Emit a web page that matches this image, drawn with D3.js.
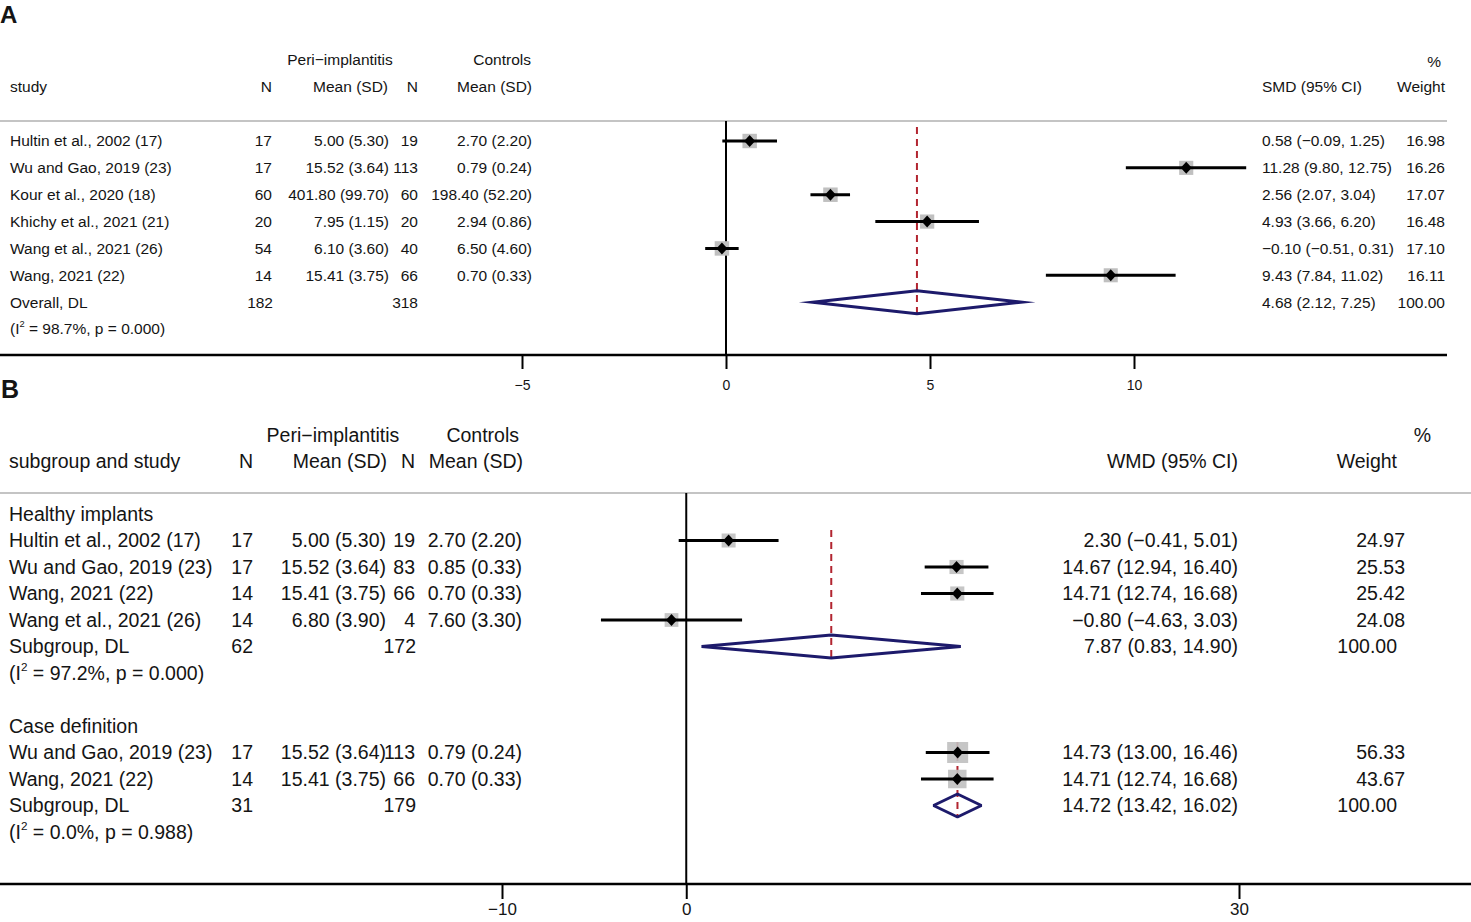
<!DOCTYPE html>
<html>
<head>
<meta charset="utf-8">
<script src="https://cdn.jsdelivr.net/npm/d3@7"></script>
<style>
  html, body { margin: 0; padding: 0; background: #fff; }
  svg { display: block; }
  text { font-family: "Liberation Sans", Arial, Helvetica, sans-serif; fill: #141414; }
</style>
</head>
<body>
<svg id="chart" width="1471" height="922"></svg>
<script>
// ---------- Panel A data ----------
const studiesA = ["Hultin et al., 2002 (17)", "Wu and Gao, 2019 (23)", "Kour et al., 2020 (18)",
  "Khichy et al., 2021 (21)", "Wang et al., 2021 (26)", "Wang, 2021 (22)"];
const nPeriA = [17, 17, 60, 20, 54, 14];
const meanSdPeriA = ["5.00 (5.30)", "15.52 (3.64)", "401.80 (99.70)", "7.95 (1.15)", "6.10 (3.60)", "15.41 (3.75)"];
const nCtrlA = [19, 113, 60, 20, 40, 66];
const meanSdCtrlA = ["2.70 (2.20)", "0.79 (0.24)", "198.40 (52.20)", "2.94 (0.86)", "6.50 (4.60)", "0.70 (0.33)"];
const smdA = [0.58, 11.28, 2.56, 4.93, -0.10, 9.43];
const lowA = [-0.09, 9.80, 2.07, 3.66, -0.51, 7.84];
const highA = [1.25, 12.75, 3.04, 6.20, 0.31, 11.02];
const weightA = [16.98, 16.26, 17.07, 16.48, 17.10, 16.11];
const overallA = [4.68, 2.12, 7.25];
const overallNA = [182, 318];
const hetA = ["98.7%", "0.000"];
const ticksA = [-5, 0, 5, 10];

// ---------- Panel B data ----------
const groupsB = ["Healthy implants", "Case definition"];
const studiesB = ["Hultin et al., 2002 (17)", "Wu and Gao, 2019 (23)", "Wang, 2021 (22)", "Wang et al., 2021 (26)",
  "Wu and Gao, 2019 (23)", "Wang, 2021 (22)"];
const groupOfB = [0, 0, 0, 0, 1, 1];
const nPeriB = [17, 17, 14, 14, 17, 14];
const meanSdPeriB = ["5.00 (5.30)", "15.52 (3.64)", "15.41 (3.75)", "6.80 (3.90)", "15.52 (3.64)", "15.41 (3.75)"];
const nCtrlB = [19, 83, 66, 4, 113, 66];
const meanSdCtrlB = ["2.70 (2.20)", "0.85 (0.33)", "0.70 (0.33)", "7.60 (3.30)", "0.79 (0.24)", "0.70 (0.33)"];
const wmdB = [2.30, 14.67, 14.71, -0.80, 14.73, 14.71];
const lowB = [-0.41, 12.94, 12.74, -4.63, 13.00, 12.74];
const highB = [5.01, 16.40, 16.68, 3.03, 16.46, 16.68];
const weightB = [24.97, 25.53, 25.42, 24.08, 56.33, 43.67];
const subEstB = [7.87, 14.72];
const subLowB = [0.83, 13.42];
const subHighB = [14.90, 16.02];
const subNPeriB = [62, 31];
const subNCtrlB = [172, 179];
const hetB = [["97.2%", "0.000"], ["0.0%", "0.988"]];
const ticksB = [-10, 0, 30];

const fmt = d3.format(".2f");
const ciText = (e, l, h) => `${fmt(e)} (${fmt(l)}, ${fmt(h)})`;

const svg = d3.select("#chart");

function txt(g, x, y, s, size, anchor, extra) {
  const t = g.append("text").attr("x", x).attr("y", y).attr("dy", "0.35em")
    .attr("font-size", size).attr("text-anchor", anchor || "start").text(s);
  if (extra) extra(t);
  return t;
}
function hetLabel(g, x, y, size, i2, p) {
  const t = g.append("text").attr("x", x).attr("y", y).attr("dy", "0.35em").attr("font-size", size);
  t.append("tspan").text("(I");
  t.append("tspan").attr("font-size", size * 0.6).attr("dy", "-0.75em").text("2");
  t.append("tspan").attr("dy", (size * 0.6 * 0.75) + "px").text(` = ${i2}, p = ${p})`);
}
function diamondMarker(cx, cy, hw, hh) {
  const p = d3.path();
  p.moveTo(cx - hw, cy); p.lineTo(cx, cy - hh); p.lineTo(cx + hw, cy); p.lineTo(cx, cy + hh); p.closePath();
  return p.toString();
}

// ================= PANEL A =================
(function () {
  const g = svg.append("g");
  const fs = 15.5;
  const x = d3.scaleLinear().domain([-5, 10]).range([522, 1134]);
  const y = d3.scaleLinear().domain([0, 7]).range([141, 329]);
  const axisY = 355, headerLineY = 121;

  g.append("text").attr("x", 0).attr("y", 23).attr("font-size", 24).attr("font-weight", "bold").text("A");

  // headers
  txt(g, 340, 60, "Peri\u2212implantitis", fs, "middle");
  txt(g, 531, 60, "Controls", fs, "end");
  txt(g, 1441, 62, "%", fs, "end");
  txt(g, 10, 87, "study", fs);
  txt(g, 272, 87, "N", fs, "end");
  txt(g, 388, 87, "Mean (SD)", fs, "end");
  txt(g, 418, 87, "N", fs, "end");
  txt(g, 532, 87, "Mean (SD)", fs, "end");
  txt(g, 1262, 87, "SMD (95% CI)", fs);
  txt(g, 1445, 87, "Weight", fs, "end");

  g.append("line").attr("x1", 0).attr("x2", 1447).attr("y1", headerLineY).attr("y2", headerLineY)
    .attr("stroke", "#c4c4c4").attr("stroke-width", 2);

  // study rows
  studiesA.forEach((s, i) => {
    const yy = y(i);
    txt(g, 10, yy, s, fs);
    txt(g, 272, yy, nPeriA[i], fs, "end");
    txt(g, 389, yy, meanSdPeriA[i], fs, "end");
    txt(g, 418, yy, nCtrlA[i], fs, "end");
    txt(g, 532, yy, meanSdCtrlA[i], fs, "end");
    txt(g, 1262, yy, ciText(smdA[i], lowA[i], highA[i]), fs);
    txt(g, 1445, yy, fmt(weightA[i]), fs, "end");
  });
  // overall
  const yo = y(6);
  txt(g, 10, yo, "Overall, DL", fs);
  txt(g, 273, yo, overallNA[0], fs, "end");
  txt(g, 418, yo, overallNA[1], fs, "end");
  txt(g, 1262, yo, ciText(overallA[0], overallA[1], overallA[2]), fs);
  txt(g, 1445, yo, "100.00", fs, "end");
  hetLabel(g, 10, y(7), fs, hetA[0], hetA[1]);

  // null line
  g.append("line").attr("x1", x(0)).attr("x2", x(0)).attr("y1", headerLineY).attr("y2", axisY)
    .attr("stroke", "#000").attr("stroke-width", 2);

  // boxes, CIs, markers
  const k = 3.5;
  studiesA.forEach((s, i) => {
    const yy = y(i), side = k * Math.sqrt(weightA[i]);
    g.append("rect").attr("x", x(smdA[i]) - side / 2).attr("y", yy - side / 2)
      .attr("width", side).attr("height", side).attr("fill", "#c0c0c0");
    g.append("line").attr("x1", x(lowA[i])).attr("x2", x(highA[i])).attr("y1", yy).attr("y2", yy)
      .attr("stroke", "#000").attr("stroke-width", 3);
    g.append("path").attr("d", diamondMarker(x(smdA[i]), yy, 5.5, 6)).attr("fill", "#000");
  });

  // overall line and diamond
  g.append("line").attr("x1", x(overallA[0])).attr("x2", x(overallA[0])).attr("y1", y(0) - 14).attr("y2", yo + 13)
    .attr("stroke", "#b22530").attr("stroke-width", 2).attr("stroke-dasharray", "7,5");
  const pA = d3.path();
  pA.moveTo(x(overallA[1]), yo); pA.lineTo(x(overallA[0]), yo - 11.5);
  pA.lineTo(x(overallA[2]), yo); pA.lineTo(x(overallA[0]), yo + 11.5); pA.closePath();
  g.append("path").attr("d", pA.toString())
    .attr("fill", "none").attr("stroke", "#1d1a6b").attr("stroke-width", 3)
    .attr("stroke-linejoin", "miter").attr("stroke-miterlimit", 30);

  // axis
  g.append("line").attr("x1", 0).attr("x2", 1447).attr("y1", axisY).attr("y2", axisY)
    .attr("stroke", "#000").attr("stroke-width", 2.5);
  const ax = g.append("g").attr("transform", `translate(0,${axisY})`)
    .call(d3.axisBottom(x).tickValues(ticksA).tickSize(14).tickPadding(11).tickFormat(d3.format("d")));
  ax.select(".domain").remove();
  ax.selectAll(".tick line").attr("stroke", "#000").attr("stroke-width", 2);
  ax.selectAll(".tick text").attr("font-size", 14).attr("font-family", "Liberation Sans, Arial, sans-serif").attr("fill", "#141414");
})();

// ================= PANEL B =================
(function () {
  const g = svg.append("g");
  const fs = 19.5;
  const x = d3.scaleLinear().domain([-10, 30]).range([502, 1239]);
  const y = d3.scaleLinear().domain([0, 12]).range([514, 832]);
  const axisY = 884, headerLineY = 493;

  g.append("text").attr("x", 1).attr("y", 398).attr("font-size", 25).attr("font-weight", "bold").text("B");

  txt(g, 333, 435, "Peri\u2212implantitis", fs, "middle");
  txt(g, 519, 435, "Controls", fs, "end");
  txt(g, 1431, 435, "%", fs, "end");
  txt(g, 9, 461, "subgroup and study", fs);
  txt(g, 253, 461, "N", fs, "end");
  txt(g, 387, 461, "Mean (SD)", fs, "end");
  txt(g, 415, 461, "N", fs, "end");
  txt(g, 523, 461, "Mean (SD)", fs, "end");
  txt(g, 1238, 461, "WMD (95% CI)", fs, "end");
  txt(g, 1397, 461, "Weight", fs, "end");

  g.append("line").attr("x1", 0).attr("x2", 1471).attr("y1", headerLineY).attr("y2", headerLineY)
    .attr("stroke", "#c4c4c4").attr("stroke-width", 2);

  // row index layout
  const startRow = [0, 8];
  const rowOf = [];
  const counter = [0, 0];
  studiesB.forEach((s, i) => { const gi = groupOfB[i]; counter[gi]++; rowOf.push(startRow[gi] + counter[gi]); });
  const subRow = groupsB.map((gname, gi) => startRow[gi] + counter[gi] + 1);

  // null line
  g.append("line").attr("x1", x(0)).attr("x2", x(0)).attr("y1", headerLineY).attr("y2", axisY)
    .attr("stroke", "#000").attr("stroke-width", 2);

  groupsB.forEach((gname, gi) => {
    txt(g, 9, y(startRow[gi]), gname, fs);
    const ys = y(subRow[gi]);
    txt(g, 9, ys, "Subgroup, DL", fs);
    txt(g, 253, ys, subNPeriB[gi], fs, "end");
    txt(g, 416, ys, subNCtrlB[gi], fs, "end");
    txt(g, 1238, ys, ciText(subEstB[gi], subLowB[gi], subHighB[gi]), fs, "end");
    txt(g, 1397, ys, "100.00", fs, "end");
    hetLabel(g, 9, y(subRow[gi] + 1), fs, hetB[gi][0], hetB[gi][1]);
  });

  const k = 2.8;
  studiesB.forEach((s, i) => {
    const yy = y(rowOf[i]);
    txt(g, 9, yy, s, fs);
    txt(g, 253, yy, nPeriB[i], fs, "end");
    txt(g, 386, yy, meanSdPeriB[i], fs, "end");
    txt(g, 415, yy, nCtrlB[i], fs, "end");
    txt(g, 522, yy, meanSdCtrlB[i], fs, "end");
    txt(g, 1238, yy, ciText(wmdB[i], lowB[i], highB[i]), fs, "end");
    txt(g, 1405, yy, fmt(weightB[i]), fs, "end");
  });

  // dashed subgroup lines (drawn before boxes)
  groupsB.forEach((gname, gi) => {
    const firstRow = startRow[gi] + 1;
    g.append("line").attr("x1", x(subEstB[gi])).attr("x2", x(subEstB[gi]))
      .attr("y1", y(firstRow) - 10.5).attr("y2", y(subRow[gi]) + 11)
      .attr("stroke", "#b22530").attr("stroke-width", 2).attr("stroke-dasharray", "7,5");
  });

  studiesB.forEach((s, i) => {
    const yy = y(rowOf[i]), side = k * Math.sqrt(weightB[i]);
    g.append("rect").attr("x", x(wmdB[i]) - side / 2).attr("y", yy - side / 2)
      .attr("width", side).attr("height", side).attr("fill", "#c0c0c0").attr("fill-opacity", 0.9);
    g.append("line").attr("x1", x(lowB[i])).attr("x2", x(highB[i])).attr("y1", yy).attr("y2", yy)
      .attr("stroke", "#000").attr("stroke-width", 3);
    g.append("path").attr("d", diamondMarker(x(wmdB[i]), yy, 5.5, 6)).attr("fill", "#000");
  });

  groupsB.forEach((gname, gi) => {
    const ys = y(subRow[gi]);
    const p = d3.path();
    p.moveTo(x(subLowB[gi]), ys); p.lineTo(x(subEstB[gi]), ys - 11.5);
    p.lineTo(x(subHighB[gi]), ys); p.lineTo(x(subEstB[gi]), ys + 11.5); p.closePath();
    g.append("path").attr("d", p.toString()).attr("fill", "none").attr("stroke", "#1d1a6b")
      .attr("stroke-width", 3).attr("stroke-linejoin", "bevel");
  });

  // axis
  g.append("line").attr("x1", 0).attr("x2", 1471).attr("y1", axisY).attr("y2", axisY)
    .attr("stroke", "#000").attr("stroke-width", 2.5);
  const ax = g.append("g").attr("transform", `translate(0,${axisY})`)
    .call(d3.axisBottom(x).tickValues(ticksB).tickSize(15).tickPadding(4).tickFormat(d3.format("d")));
  ax.select(".domain").remove();
  ax.selectAll(".tick line").attr("stroke", "#000").attr("stroke-width", 2);
  ax.selectAll(".tick text").attr("font-size", 17).attr("font-family", "Liberation Sans, Arial, sans-serif").attr("fill", "#141414");
})();
</script>
</body>
</html>
